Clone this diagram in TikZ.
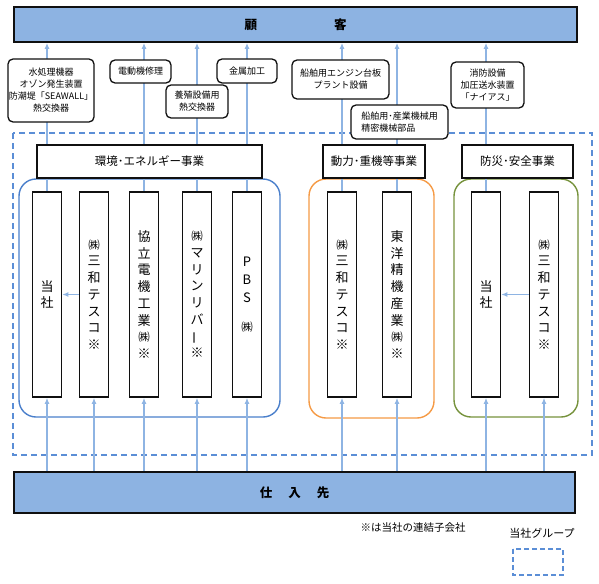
\documentclass[tikz,border=0pt]{standalone}
\usepackage{fontspec}
\setmainfont{Noto Sans CJK JP}
\usepackage{tikz}
\usetikzlibrary{arrows.meta}
\definecolor{inkK}{HTML}{101010}
\definecolor{cArr}{HTML}{8EB4E3}
\definecolor{lEnd}{HTML}{8DB3E2}
\definecolor{cEnv}{HTML}{4A7FCB}
\definecolor{cPow}{HTML}{F59A45}
\definecolor{cSaf}{HTML}{76923C}
\definecolor{cGrp}{HTML}{5B8ED6}
\newcommand{\kabu}{{\fontsize{11.5}{11.5}\selectfont ㈱}}
\newcommand{\vbar}{\rotatebox[origin=c]{90}{ー}}
\tikzset{
  endbar/.style={draw=inkK, line width=1.8pt, fill=lEnd, inner sep=0pt,
                 font=\fontsize{12.5}{14}\selectfont\bfseries},
  colbox/.style={draw=inkK, line width=1.6pt, fill=white, minimum width=29pt,
                 minimum height=205pt, inner sep=0pt, align=center,
                 font=\fontsize{13}{16.7}\selectfont},
  segbox/.style={draw=inkK, line width=1.3pt, fill=white, minimum height=33pt,
                 inner sep=0pt, font=\fontsize{11.5}{14}\selectfont},
  itembox/.style={draw=inkK, line width=1.3pt, fill=white, rounded corners=5pt,
                  inner sep=0pt, align=center, font=\fontsize{9}{12}\selectfont},
  flow/.style={draw=cArr, line width=1.4pt, -{Latex[length=6pt,width=5pt]}},
  unit/.style={line width=1.4pt, rounded corners=17pt},
  group/.style={draw=cGrp, line width=1.4pt, dash pattern=on 6pt off 4pt},
}

\begin{document}
\begin{tikzpicture}[x=1pt, y=-1pt]
  \useasboundingbox (0,0) rectangle (599,583);

  % group frame and business units
  \draw[group] (13,133) rectangle (592,455);
  \draw[unit, draw=cEnv] (19,179) rectangle (280,417);
  \draw[unit, draw=cPow] (309,179) rectangle (434,418);
  \draw[unit, draw=cSaf] (454,179) rectangle (578,417);

  % customers and suppliers
  \node[endbar, minimum width=563pt, minimum height=35pt] (cust) at (295.5,24.5)
    {顧\hspace{77pt}客};
  \node[endbar, minimum width=561pt, minimum height=41pt] (supp) at (294.5,492.5)
    {仕\hspace{16pt}入\hspace{16pt}先};

  % companies
  \node[colbox] (envA) at (47,294.5)  {当\\社};
  \node[colbox] (envB) at (94,294.5)  {\kabu\\三\\和\\テ\\ス\\コ\\※};
  \node[colbox] (envC) at (144,294.5) {協\\立\\電\\機\\工\\業\\\kabu\\※};
  \node[colbox] (envD) at (197,294.5) {\kabu\\マ\\リ\\ン\\リ\\バ\\\vbar\\※};
  \node[colbox] (envE) at (247,294.5) {P\\[1.5pt]B\\[1.5pt]S\\[12pt]\kabu};
  \node[colbox] (powA) at (342,294.5) {\kabu\\三\\和\\テ\\ス\\コ\\※};
  \node[colbox] (powB) at (397,294.5) {東\\洋\\精\\機\\産\\業\\\kabu\\※};
  \node[colbox] (safA) at (486,294.5) {当\\社};
  \node[colbox] (safB) at (544,294.5) {\kabu\\三\\和\\テ\\ス\\コ\\※};

  % flows
  \foreach \c in {envA,envB,envC,envD,envE,powA,powB,safA,safB}
    \draw[flow] (supp.north -| \c.south) -- (\c.south);
  \foreach \c in {envA,envC,envD,envE,powA,powB,safA}
    \draw[flow] (\c.north) -- (\c.north |- cust.south);
  \draw[flow] (envB.west) -- (envA.east);
  \draw[flow] (safB.west) -- (safA.east);

  % segments
  \node[segbox, minimum width=225pt] (segEnv) at (149.5,161.5) {環境･エネルギー事業};
  \node[segbox, minimum width=102pt] (segPow) at (374,161.5) {動力･重機等事業};
  \node[segbox, minimum width=111pt] (segSaf) at (517.5,161.5) {防災･安全事業};

  % products
  \node[itembox, minimum width=86pt, minimum height=63pt] (prodA) at (51,90.5)
    {水処理機器\\オゾン発生装置\\防潮堤「SEAWALL」\\熱交換器};
  \node[itembox, minimum width=61pt, minimum height=23pt] (prodB) at (140.5,71.5)
    {電動機修理};
  \node[itembox, minimum width=62pt, minimum height=33pt] (prodC) at (197,101.5)
    {養殖設備用\\熱交換器};
  \node[itembox, minimum width=60pt, minimum height=24pt] (prodD) at (247,71)
    {金属加工};
  \node[itembox, minimum width=97pt, minimum height=39pt] (prodE) at (340.5,79.5)
    {船舶用エンジン台板\\プラント設備};
  \node[itembox, minimum width=97pt, minimum height=34pt, align=left] (prodF) at (399.5,122)
    {船舶用･産業機械用\\精密機械部品};
  \node[itembox, minimum width=73pt, minimum height=46pt] (prodG) at (487.5,85)
    {消防設備\\加圧送水装置\\「ナイアス」};

  % legend
  \node[font=\fontsize{10.5}{12}\selectfont] (note) at (413,528) {※は当社の連結子会社};
  \node[font=\fontsize{11}{12}\selectfont] (legTxt) at (542,533) {当社グループ};
  \draw[group, line width=1.2pt, dash pattern=on 5pt off 3pt] (513,549) rectangle (563,575);
\end{tikzpicture}
\end{document}
